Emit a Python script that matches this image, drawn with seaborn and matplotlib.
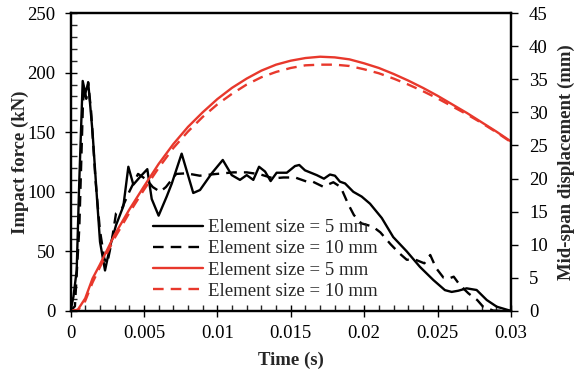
import numpy as np
import pandas as pd
import matplotlib
matplotlib.use("Agg")
import matplotlib.pyplot as plt
import seaborn as sns
from matplotlib.ticker import MultipleLocator

# ---- data ----
t_force5 = [0, 0.0002, 0.00042, 0.0006, 0.00083, 0.00101, 0.00121, 0.0015, 0.0018, 0.00201,
            0.00235, 0.00269, 0.0031, 0.0036, 0.00394, 0.00428, 0.0047, 0.00523, 0.00553, 0.006,
            0.00655, 0.0069, 0.00757, 0.00836, 0.00882, 0.00962, 0.01037, 0.01098, 0.01154, 0.012,
            0.01245, 0.01284, 0.01325, 0.01363, 0.01404, 0.01473, 0.01529, 0.01558, 0.01597, 0.01677,
            0.01726, 0.01767, 0.01801, 0.01835, 0.0187, 0.01926, 0.01983, 0.0204, 0.0212, 0.02198,
            0.0229, 0.0238, 0.02471, 0.0255, 0.02596, 0.02641, 0.02698, 0.02766, 0.02835, 0.02903,
            0.02993]
force5 = [0, 12, 34, 110, 193, 183, 191, 150, 95, 58,
          34, 54, 72, 88, 121, 106, 112, 119, 94, 80,
          96, 107, 132, 99, 101.5, 115.5, 126.7, 114, 110, 114,
          110, 121, 117, 109, 116, 116, 121.6, 122.5, 118, 114,
          111, 114.5, 113.5, 108.5, 107, 100, 96, 90, 78, 62,
          50, 37, 26, 17.5, 16, 17, 19, 17.6, 9.2, 3.6,
          0.3]

t_force10 = [0, 0.0003, 0.0006, 0.00085, 0.00095, 0.00107, 0.0012, 0.0014, 0.0017, 0.002,
             0.0023, 0.0025, 0.0028, 0.0031, 0.0035, 0.004, 0.0046, 0.0052, 0.0056, 0.0061,
             0.0065, 0.0072, 0.0079, 0.0088, 0.0097, 0.0111, 0.012, 0.0129, 0.0138, 0.0145,
             0.0153, 0.0161, 0.0165, 0.0172, 0.0179, 0.0184, 0.0189, 0.0193, 0.0198, 0.0206,
             0.0211, 0.0218, 0.0224, 0.0229, 0.0235, 0.0241, 0.0245, 0.0249, 0.0254, 0.0258,
             0.0261, 0.0265, 0.0271, 0.0277, 0.0281, 0.0288, 0.03]
force10 = [0, 4, 70, 175, 188, 178, 192, 168, 110, 68,
           44, 40, 58, 82, 86, 100, 115, 110, 104, 100,
           104, 115, 115.5, 113.5, 114.7, 116.3, 116.3, 114.7, 111.3, 112,
           112, 108.5, 108.5, 104.3, 108, 104, 90, 80.5, 73.6, 70.7,
           66, 56, 48.4, 43, 43, 40, 47, 36, 28, 27.4,
           28.8, 22, 14.8, 9.2, 3.6, 0.3, 0]

t_disp = [0, 0.0005, 0.001, 0.0015, 0.002, 0.003, 0.004, 0.005, 0.006, 0.007, 0.008, 0.009,
          0.010, 0.011, 0.012, 0.013, 0.014, 0.015, 0.016, 0.017, 0.018, 0.019, 0.020, 0.021,
          0.022, 0.023, 0.024, 0.025, 0.026, 0.027, 0.028, 0.029, 0.030]
disp5 = [0, 0.2, 1.9, 4.9, 7.0, 11.5, 15.3, 18.8, 22.2, 25.2, 27.8, 30.0,
         32.0, 33.7, 35.1, 36.3, 37.2, 37.8, 38.2, 38.4, 38.3, 38.0, 37.4, 36.7,
         35.8, 34.8, 33.7, 32.5, 31.2, 29.9, 28.5, 27.1, 25.6]
disp10 = [0, 0.1, 1.5, 4.3, 6.6, 11.0, 14.8, 18.3, 21.6, 24.6, 27.1, 29.3,
          31.2, 32.8, 34.2, 35.3, 36.1, 36.7, 37.1, 37.2, 37.2, 37.0, 36.5, 35.9,
          35.1, 34.2, 33.2, 32.1, 30.9, 29.7, 28.4, 27.0, 25.5]

label5 = "Element size = 5 mm"
label10 = "Element size = 10 mm"
x_ticks = [0, 0.005, 0.01, 0.015, 0.02, 0.025, 0.03]
x_ticklabels = ["0", "0.005", "0.01", "0.015", "0.02", "0.025", "0.03"]

RED = "#E8382C"

sns.set_style("ticks")
plt.rcParams["font.family"] = ["Liberation Serif", "DejaVu Serif"]

fig, ax = plt.subplots(figsize=(5.77, 3.75), dpi=100)
fig.subplots_adjust(left=0.1222, right=0.8856, top=0.9653, bottom=0.1707)
ax2 = ax.twinx()

df5 = pd.DataFrame({"t": t_force5, "F": force5})
df10 = pd.DataFrame({"t": t_force10, "F": force10})
dd = pd.DataFrame({"t": t_disp, "d5": disp5, "d10": disp10})

sns.lineplot(data=df5, x="t", y="F", ax=ax, color="black", linewidth=1.7, label=label5, sort=False)
sns.lineplot(data=df10, x="t", y="F", ax=ax, color="black", linewidth=1.7, linestyle=(0, (4.5, 3)),
             label=label10, sort=False)
sns.lineplot(data=dd, x="t", y="d5", ax=ax2, color=RED, linewidth=1.7, label=label5, sort=False)
sns.lineplot(data=dd, x="t", y="d10", ax=ax2, color=RED, linewidth=1.7, linestyle=(0, (4.5, 3)),
             label=label10, sort=False)

ax.set_xlim(0, 0.03)
ax.set_ylim(0, 250)
ax2.set_ylim(0, 45)

ax.set_xticks(x_ticks)
ax.set_xticklabels(x_ticklabels)
ax.xaxis.set_minor_locator(MultipleLocator(0.001))
ax.yaxis.set_major_locator(MultipleLocator(50))
ax.yaxis.set_minor_locator(MultipleLocator(10))
ax2.yaxis.set_major_locator(MultipleLocator(5))

fs = 13.5
ax.tick_params(axis="x", which="major", direction="inout", length=8, width=1.0,
               labelsize=fs, colors="black", pad=6)
ax.tick_params(axis="y", which="major", direction="inout", length=8, width=1.0,
               labelsize=fs, colors="black", pad=7)
ax.tick_params(axis="both", which="minor", direction="in", length=4, width=1.0)
ax2.tick_params(axis="y", which="major", direction="out", length=5, width=1.0,
                labelsize=fs, colors="black", pad=8)

for a in (ax, ax2):
    for s in a.spines.values():
        s.set_linewidth(1.6)
        s.set_color("black")

ax.set_xlabel("Time (s)", fontsize=13.5, fontweight="bold")
ax.set_ylabel("Impact force (kN)", fontsize=13.5, fontweight="bold")
ax2.set_ylabel("Mid-span displacement (mm)", fontsize=13.5, fontweight="bold", rotation=90)
ax.xaxis.set_label_coords(0.5, -0.135)
ax.yaxis.set_label_coords(-0.095, 0.5)
ax2.yaxis.set_label_coords(1.107, 0.5)

h1, l1 = ax.get_legend_handles_labels()
h2, l2 = ax2.get_legend_handles_labels()
if ax.get_legend() is not None:
    ax.get_legend().remove()
if ax2.get_legend() is not None:
    ax2.get_legend().remove()
ax2.legend(h1 + h2, l1 + l2, loc="lower left", bbox_to_anchor=(0.17, 0.012), frameon=False,
           fontsize=13.5, handlelength=2.65, handletextpad=0.3, labelspacing=0.22,
           borderaxespad=0.0)

fig.savefig("out.png", dpi=100)
